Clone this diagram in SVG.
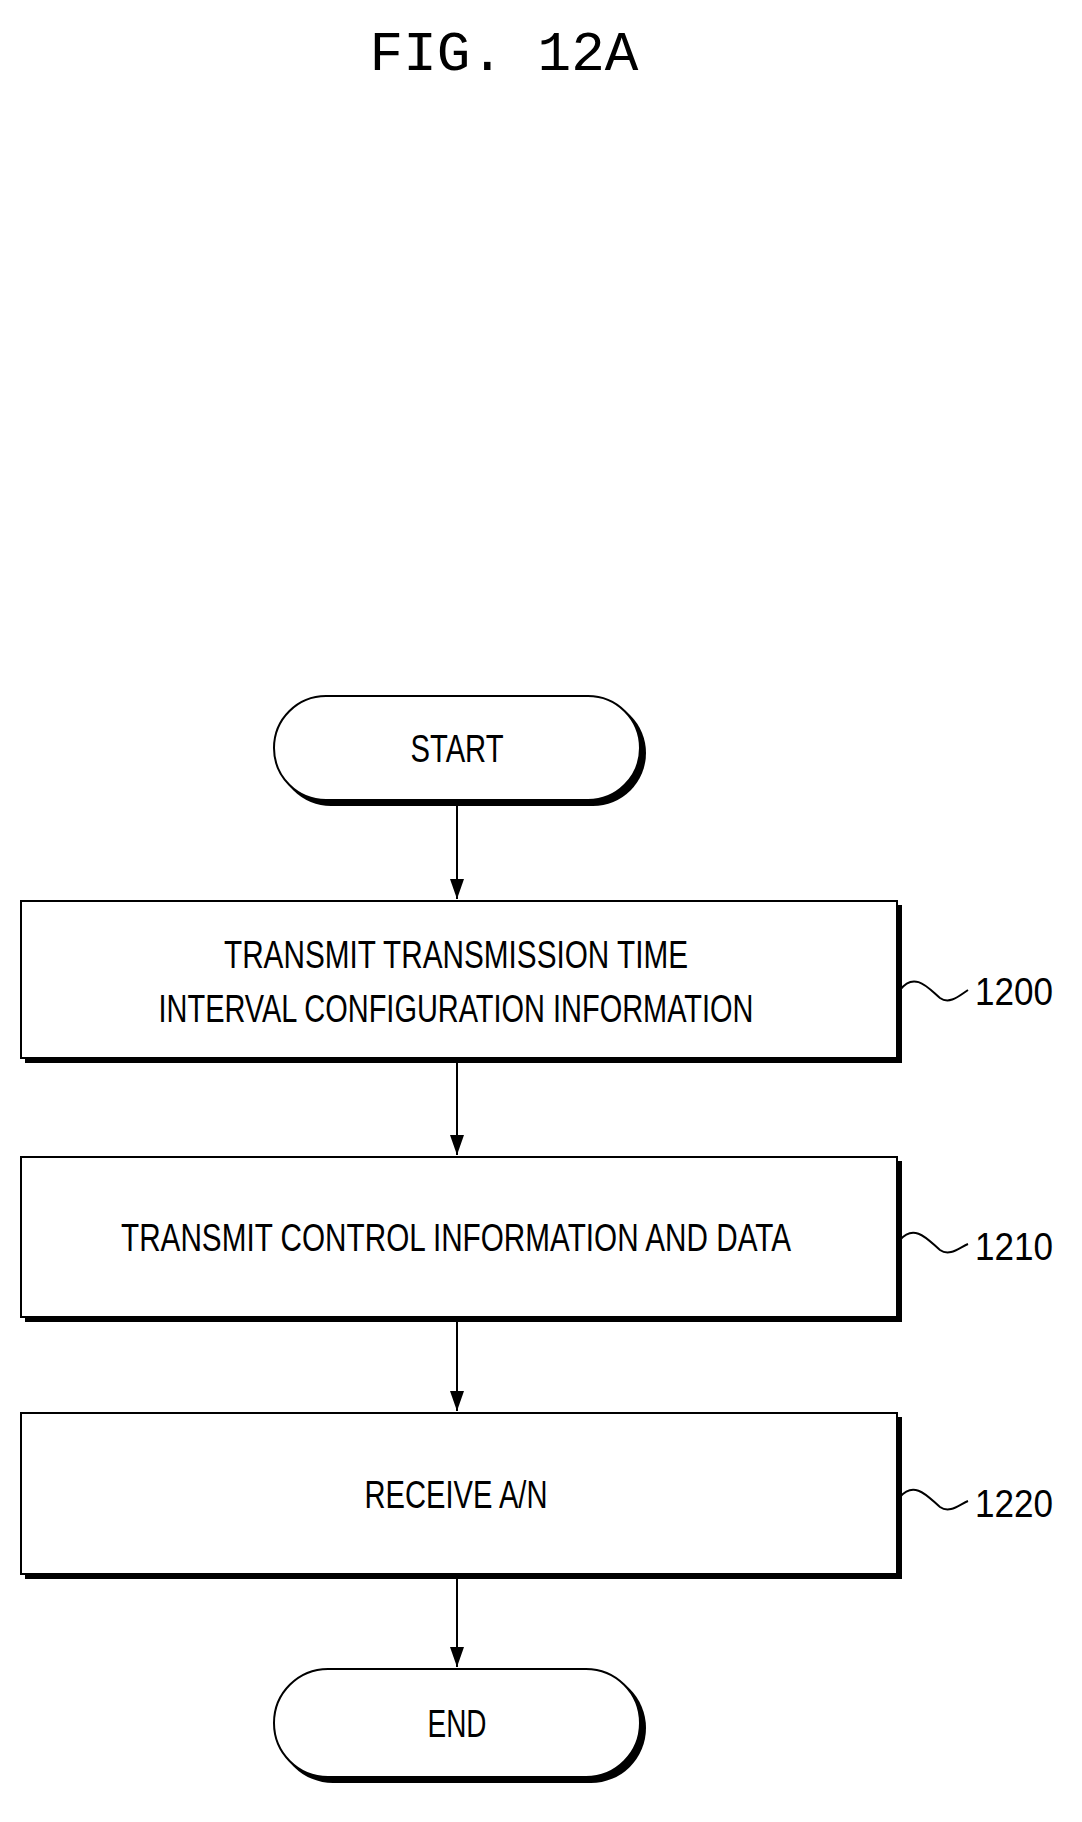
<svg xmlns="http://www.w3.org/2000/svg" width="1082" height="1822" viewBox="0 0 1082 1822">
<defs>
<style>
.s{fill:#fff;stroke:#000;stroke-width:2}
.sh{fill:#000}
.t{font-family:"Liberation Sans",Arial,sans-serif;font-size:38px;text-anchor:middle;fill:#000}
.ln{stroke:#000;stroke-width:2;fill:none}
.lb{font-family:"Liberation Sans",Arial,sans-serif;font-size:38px;fill:#000}
</style>
<marker id="ah" markerWidth="20" markerHeight="14" refX="20" refY="7" orient="auto" markerUnits="userSpaceOnUse" viewBox="0 0 20 14"><path d="M0,0 L20,7 L0,14 Z" fill="#000"/></marker>
</defs>
<rect width="1082" height="1822" fill="#fff"/>
<text x="504" y="70" font-family="Liberation Mono,monospace" font-size="56" text-anchor="middle">FIG. 12A</text>
<g id="connectors">
<line class="ln" x1="457" y1="805" x2="457" y2="899" marker-end="url(#ah)"/>
<line class="ln" x1="457" y1="1063" x2="457" y2="1155" marker-end="url(#ah)"/>
<line class="ln" x1="457" y1="1322" x2="457" y2="1411" marker-end="url(#ah)"/>
<line class="ln" x1="457" y1="1579" x2="457" y2="1667" marker-end="url(#ah)"/>
</g>
<g id="start">
<rect class="sh" x="278" y="700" width="368" height="106" rx="53"/>
<rect class="s" x="274" y="696" width="366" height="104" rx="52"/>
<text class="t" x="457" y="762" textLength="93" lengthAdjust="spacingAndGlyphs">START</text>
</g>
<g id="n1200">
<rect class="sh" x="25" y="905" width="877" height="158"/>
<rect class="s" x="21" y="901" width="876" height="157"/>
<text class="t" x="456" y="968" textLength="464" lengthAdjust="spacingAndGlyphs">TRANSMIT TRANSMISSION TIME</text>
<text class="t" x="456" y="1022" textLength="595" lengthAdjust="spacingAndGlyphs">INTERVAL CONFIGURATION INFORMATION</text>
<path class="ln" d="M900,990 C915,970 930,990 940,998 C950,1005 960,995 968,990"/>
<text class="lb" x="975" y="1005" textLength="78" lengthAdjust="spacingAndGlyphs">1200</text>
</g>
<g id="n1210">
<rect class="sh" x="25" y="1161" width="877" height="161"/>
<rect class="s" x="21" y="1157" width="876" height="160"/>
<text class="t" x="456" y="1251" textLength="670" lengthAdjust="spacingAndGlyphs">TRANSMIT CONTROL INFORMATION AND DATA</text>
<path class="ln" d="M900,1240 C915,1222 930,1242 940,1250 C950,1257 960,1247 968,1244"/>
<text class="lb" x="975" y="1260" textLength="78" lengthAdjust="spacingAndGlyphs">1210</text>
</g>
<g id="n1220">
<rect class="sh" x="25" y="1417" width="877" height="162"/>
<rect class="s" x="21" y="1413" width="876" height="161"/>
<text class="t" x="456" y="1508" textLength="183" lengthAdjust="spacingAndGlyphs">RECEIVE A/N</text>
<path class="ln" d="M900,1497 C915,1479 930,1499 940,1507 C950,1514 960,1504 968,1501"/>
<text class="lb" x="975" y="1517" textLength="78" lengthAdjust="spacingAndGlyphs">1220</text>
</g>
<g id="end">
<rect class="sh" x="278" y="1673" width="368" height="110" rx="55"/>
<rect class="s" x="274" y="1669" width="366" height="108" rx="54"/>
<text class="t" x="457" y="1737" textLength="59" lengthAdjust="spacingAndGlyphs">END</text>
</g>
</svg>
